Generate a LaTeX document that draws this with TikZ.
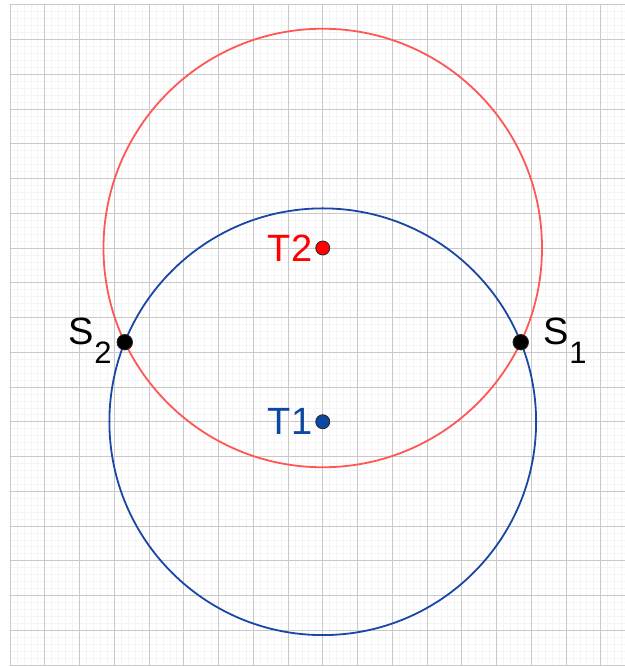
\documentclass[tikz,border=0pt]{standalone}
\usepackage{fontspec}
\setmainfont{Liberation Sans}
\usetikzlibrary{positioning}
\definecolor{cblue}{HTML}{1A46A5}
\definecolor{cred}{HTML}{FF5656}
\definecolor{tblue}{HTML}{0D47A1}
\newcommand{\lsub}[1]{\raisebox{-.5em}{\fontsize{31}{31}\selectfont#1}}
\begin{document}
\begin{tikzpicture}[line join = round, line cap = round,x=34.75pt,y=34.75pt,font=\fontsize{38}{40}\selectfont,
	dot/.style={circle,draw=black!85,line width=.8pt,inner sep=0pt,minimum size=14pt},
	lbl/.style={inner sep=0pt}]
	\def\xt{-0.288} \def\xp{17.698} \def\yd{-0.029} \def\yt{19}
	\def\ra{6.14}
	\def\rb{6.31}
	\useasboundingbox (\xt,\yd) rectangle (\xp,19.137);
	\draw[gray!9,line width=.7pt,step=.2] (0,\yd) grid (\xp,\yt);
	\draw[gray!42,line width=.9pt,step=1] (0,\yd) grid (\xp,\yt);
	\pgfmathsetmacro{\ys}{(95-(\rb*\rb-\ra*\ra))/10}
	\pgfmathsetmacro{\dx}{sqrt(\ra*\ra-(\ys-7)*(\ys-7))}
	\draw[cred,line width=1.8pt] (9,12) circle (\rb);
	\draw[cblue,line width=1.8pt] (9,7) circle (\ra);
	\node[dot,fill=red] (T2) at (9,12) {};
	\node[dot,fill=tblue] (T1) at (9,7) {};
	\node[dot,fill=black,minimum size=15.5pt] (S1) at ({9+\dx},\ys) {};
	\node[dot,fill=black,minimum size=15.5pt] (S2) at ({9-\dx},\ys) {};
	\node[lbl,text=red,left=3pt of T2] (lT2) {T2};
	\node[lbl,text=tblue,left=3pt of T1] (lT1) {T1};
	\node[lbl,anchor=base west] (lS1) at ([xshift=23pt,yshift=-2pt]S1.center) {S\lsub{1}};
	\node[lbl,anchor=base east] (lS2) at ([xshift=-13pt,yshift=-2pt]S2.center) {S\lsub{2}};
\end{tikzpicture}
\end{document}
